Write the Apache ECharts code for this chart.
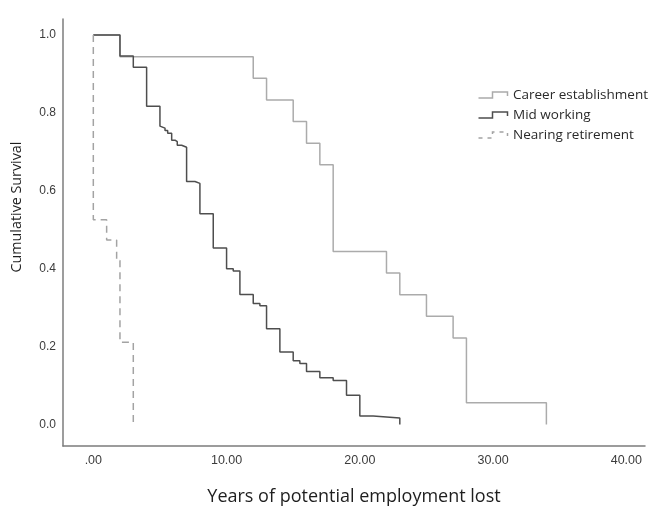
<!DOCTYPE html>
<html>
<head>
<meta charset="utf-8">
<script src="https://cdn.jsdelivr.net/npm/echarts@6/dist/echarts.min.js"></script>
<style>
  html, body { margin: 0; padding: 0; background: #fff; }
  #chart { width: 651px; height: 511px; }
</style>
</head>
<body>
<div id="chart"></div>
<script>
// Kaplan–Meier survival estimates by career stage
const groupNames = ['Career establishment', 'Mid working', 'Nearing retirement'];

const careerYears    = [0, 2, 12, 13, 15, 16, 17, 18, 22, 23, 25, 27, 28, 34];
const careerSurvival = [1, 0.944, 0.889, 0.833, 0.778, 0.722, 0.667, 0.444, 0.389, 0.333, 0.278, 0.222, 0.056, 0];

const midYears    = [0, 2, 3, 4, 5, 5.13, 5.38, 5.58, 5.88, 6.13, 6.3, 6.63, 7, 7.63, 8, 9, 10, 10.5, 11, 12, 12.5, 13, 14, 15, 15.5, 16, 17, 18, 19, 20, 21, 23];
const midSurvival = [1, 0.946, 0.917, 0.817, 0.766, 0.761, 0.755, 0.748, 0.730, 0.726, 0.717, 0.712, 0.624, 0.619, 0.541, 0.453, 0.400, 0.394, 0.334, 0.311, 0.305, 0.246, 0.186, 0.164, 0.157, 0.136, 0.120, 0.113, 0.075, 0.022, 0.017, 0];

const nearYears    = [0, 0, 1, 1.75, 2, 3];
const nearSurvival = [1, 0.526, 0.474, 0.421, 0.211, 0];

const xTicks = [0, 10, 20, 30, 40];
const yTicks = [0, 0.2, 0.4, 0.6, 0.8, 1.0];

const pairs = (xs, ys) => xs.map((x, i) => [x, ys[i]]);

const colors = ['#ababab', '#4e4e4e', '#a3a3a3'];
const stepIcon = 'path://M0,6 L14,6 L14,0 L29,0 L29,4';

const chart = echarts.init(document.getElementById('chart'), null, { renderer: 'canvas', width: 651, height: 511 });

chart.setOption({
  animation: false,
  backgroundColor: '#ffffff',
  grid: { left: 63, width: 582, top: 19, height: 441, containLabel: false },
  xAxis: {
    type: 'value',
    min: -2.275,
    max: 41.4,
    name: 'Years of potential employment lost',
    nameLocation: 'middle',
    nameGap: 42,
    nameTextStyle: { fontFamily: 'Open Sans', fontSize: 18, color: '#1e1e1e' },
    axisLine: { show: true, onZero: false, lineStyle: { color: '#7c7c7c', width: 1.5 } },
    axisTick: { show: false },
    splitLine: { show: false },
    axisLabel: {
      customValues: xTicks,
      margin: 8,
      fontFamily: 'Liberation Sans',
      fontSize: 12.5,
      color: '#3c3c3c',
      formatter: v => (v === 0 ? '.00' : v.toFixed(2))
    }
  },
  yAxis: {
    type: 'value',
    min: -0.055,
    max: 1.041,
    axisLine: { show: true, onZero: false, lineStyle: { color: '#7c7c7c', width: 1.5 } },
    axisTick: { show: false },
    splitLine: { show: false },
    axisLabel: {
      customValues: yTicks,
      margin: 7,
      fontFamily: 'Liberation Sans',
      fontSize: 12,
      color: '#3c3c3c',
      formatter: v => v.toFixed(1)
    }
  },
  legend: {
    orient: 'vertical',
    left: 471,
    top: 83,
    itemWidth: 30,
    itemHeight: 6,
    itemGap: 6,
    textStyle: { fontFamily: 'Open Sans', fontSize: 13.5, color: '#2a2a2a' },
    data: [
      { name: groupNames[0], icon: stepIcon, itemStyle: { color: 'none', borderColor: colors[0], borderWidth: 1.5 } },
      { name: groupNames[1], icon: stepIcon, itemStyle: { color: 'none', borderColor: colors[1], borderWidth: 1.5 } },
      { name: groupNames[2], icon: stepIcon, itemStyle: { color: 'none', borderColor: colors[2], borderWidth: 1.5, borderType: [4, 5] } }
    ]
  },
  graphic: [{
    type: 'text',
    x: 17,
    y: 207,
    rotation: Math.PI / 2,
    style: {
      text: 'Cumulative Survival',
      font: '14.3px "Open Sans"',
      fill: '#1e1e1e',
      align: 'center',
      verticalAlign: 'middle'
    }
  }],
  series: [
    {
      name: groupNames[0],
      type: 'line',
      step: 'end',
      symbol: 'none',
      data: pairs(careerYears, careerSurvival),
      lineStyle: { color: colors[0], width: 1.5 },
      itemStyle: { color: colors[0] }
    },
    {
      name: groupNames[1],
      type: 'line',
      step: 'end',
      symbol: 'none',
      data: pairs(midYears, midSurvival),
      lineStyle: { color: colors[1], width: 1.5 },
      itemStyle: { color: colors[1] }
    },
    {
      name: groupNames[2],
      type: 'line',
      step: 'end',
      symbol: 'none',
      data: pairs(nearYears, nearSurvival),
      lineStyle: { color: colors[2], width: 1.5, type: [7, 5] },
      itemStyle: { color: colors[2] }
    }
  ]
});
</script>
</body>
</html>
